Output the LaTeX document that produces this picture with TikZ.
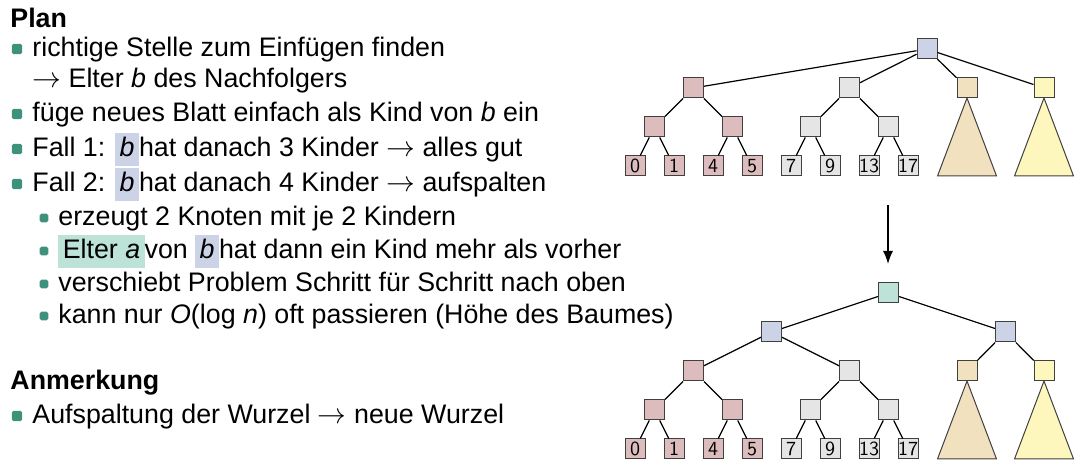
\documentclass[tikz,border=0pt]{standalone}
\usepackage{fontspec}
\setmainfont{Liberation Sans}
\usepackage{xcolor}
\usetikzlibrary{arrows.meta, positioning}

\definecolor{kitgreen}{RGB}{62,146,124}
\definecolor{nred}{RGB}{221,188,190}
\definecolor{ngray}{RGB}{229,229,229}
\definecolor{ntan}{RGB}{242,225,190}
\definecolor{nyellow}{RGB}{253,246,189}
\definecolor{nblue}{RGB}{205,211,230}
\definecolor{nteal}{RGB}{189,227,217}

\newcommand{\hlb}[1]{{\setlength{\fboxsep}{2.2pt}\colorbox{nblue}{\rule[-2.5pt]{0pt}{11pt}#1}}}
\newcommand{\hla}[1]{{\setlength{\fboxsep}{2.2pt}\colorbox{nteal}{\rule[-2.5pt]{0pt}{11pt}#1}}}

\tikzset{
  key/.style={rectangle, draw=black!75, line width=0.5pt, minimum size=10pt,
              inner sep=0pt, font=\sffamily\fontsize{10}{10}\selectfont},
  subtree/.style={draw=black!75, line width=0.5pt},
  edge/.style={line width=0.6pt},
  txt/.style={anchor=base west, inner sep=0pt, text height=9.5pt, text depth=2.5pt,
              font=\fontsize{13.4}{16}\selectfont},
  txttwo/.style={anchor=base west, inner sep=0pt, align=left,
                 font=\fontsize{13.4}{15.6}\selectfont},
  head/.style={txt, font=\fontsize{13.4}{16}\selectfont\bfseries},
  bul/.style={rectangle, fill=kitgreen, rounded corners=0.9pt,
              minimum size=5.2pt, inner sep=0pt},
  subbul/.style={bul, minimum size=4.3pt},
  arrow/.style={-{Latex[length=6.5pt, width=5pt]}, line width=0.7pt},
}

\begin{document}
\begin{tikzpicture}[x=0.5pt, y=-0.5pt]
  \useasboundingbox (0,0) rectangle (1092,474);

  % text (base anchor of the two-line item is its second line)
  \node[head] (plan) at (10,28) {Plan};
  \node[bul] (bu1) at (17,49) {};
  \node[txttwo] (l1) at (32,88) {richtige Stelle zum Einfügen finden\\
    $\rightarrow$ Elter \textit{b} des Nachfolgers};
  \node[bul] (bu2) at (17,114) {};
  \node[txt] (l2)  at (32,122) {füge neues Blatt einfach als Kind von \textit{b} ein};
  \node[bul] (bu3) at (17,149) {};
  \node[txt] (l3)  at (32,157) {Fall 1: \hlb{\textit{b}}hat danach 3 Kinder $\rightarrow$ alles gut};
  \node[bul] (bu4) at (17,184) {};
  \node[txt] (l4)  at (32,192) {Fall 2: \hlb{\textit{b}}hat danach 4 Kinder $\rightarrow$ aufspalten};
  \node[subbul] (s1) at (44,218) {};
  \node[txt] (l5)  at (58,226) {erzeugt 2 Knoten mit je 2 Kindern};
  \node[subbul] (s2) at (44,251) {};
  \node[txt] (l6)  at (58,259) {\hla{Elter \textit{a}}von \hlb{\textit{b}}hat dann ein Kind mehr als vorher};
  \node[subbul] (s3) at (44,284) {};
  \node[txt] (l7)  at (58,292) {verschiebt Problem Schritt für Schritt nach oben};
  \node[subbul] (s4) at (44,316) {};
  \node[txt] (l8)  at (58,324) {kann nur \textit{O}(log \textit{n}) oft passieren (Höhe des Baumes)};
  \node[head] (anm) at (10,390) {Anmerkung};
  \node[bul] (bu5) at (17,416) {};
  \node[txt] (l9)  at (32,424) {Aufspaltung der Wurzel $\rightarrow$ neue Wurzel};

  % tree before split
  \draw[subtree, fill=ntan]    (967,98) -- (937.5,176) -- (996.5,176) -- cycle;
  \draw[subtree, fill=nyellow] (1044,98) -- (1014.5,176) -- (1073.5,176) -- cycle;
  \node[key, fill=nblue]   (troot) at (927,49) {};
  \node[key, fill=nred]    (ta)  at (693.5,88) {};
  \node[key, fill=ngray]   (tb)  at (849.5,88) {};
  \node[key, fill=ntan]    (tc)  at (967,88) {};
  \node[key, fill=nyellow] (td)  at (1044,88) {};
  \node[key, fill=nred]    (ta1) at (654.5,127) {};
  \node[key, fill=nred]    (ta2) at (732.5,127) {};
  \node[key, fill=ngray]   (tb1) at (810.5,127) {};
  \node[key, fill=ngray]   (tb2) at (888.5,127) {};
  \node[key, fill=nred]    (t0)  at (635,166) {0};
  \node[key, fill=nred]    (t1)  at (674,166) {1};
  \node[key, fill=nred]    (t4)  at (713,166) {4};
  \node[key, fill=nred]    (t5)  at (752,166) {5};
  \node[key, fill=ngray]   (t7)  at (791,166) {7};
  \node[key, fill=ngray]   (t9)  at (830,166) {9};
  \node[key, fill=ngray]   (t13) at (869,166) {13};
  \node[key, fill=ngray]   (t17) at (908,166) {17};

  \draw[edge] (troot) -- (ta);
  \draw[edge] (troot) -- (tb);
  \draw[edge] (troot) -- (tc);
  \draw[edge] (troot) -- (td);
  \draw[edge] (ta) -- (ta1);
  \draw[edge] (ta) -- (ta2);
  \draw[edge] (tb) -- (tb1);
  \draw[edge] (tb) -- (tb2);
  \draw[edge] (ta1) -- (t0);
  \draw[edge] (ta1) -- (t1);
  \draw[edge] (ta2) -- (t4);
  \draw[edge] (ta2) -- (t5);
  \draw[edge] (tb1) -- (t7);
  \draw[edge] (tb1) -- (t9);
  \draw[edge] (tb2) -- (t13);
  \draw[edge] (tb2) -- (t17);

  \coordinate (arrtop) at (888,205);
  \coordinate (arrbot) at (888,264);
  \draw[arrow] (arrtop) -- (arrbot);

  % tree after split
  \draw[subtree, fill=ntan]    (967,381) -- (937.5,459) -- (996.5,459) -- cycle;
  \draw[subtree, fill=nyellow] (1044,381) -- (1014.5,459) -- (1073.5,459) -- cycle;
  \node[key, fill=nteal]   (broot) at (888.5,293) {};
  \node[key, fill=nblue]   (bl)  at (771.5,332) {};
  \node[key, fill=nblue]   (br)  at (1005.5,332) {};
  \node[key, fill=nred]    (ba)  at (693.5,371) {};
  \node[key, fill=ngray]   (bb)  at (849.5,371) {};
  \node[key, fill=ntan]    (bc)  at (967,371) {};
  \node[key, fill=nyellow] (bd)  at (1044,371) {};
  \node[key, fill=nred]    (ba1) at (654.5,410) {};
  \node[key, fill=nred]    (ba2) at (732.5,410) {};
  \node[key, fill=ngray]   (bb1) at (810.5,410) {};
  \node[key, fill=ngray]   (bb2) at (888.5,410) {};
  \node[key, fill=nred]    (b0)  at (635,449) {0};
  \node[key, fill=nred]    (b1)  at (674,449) {1};
  \node[key, fill=nred]    (b4)  at (713,449) {4};
  \node[key, fill=nred]    (b5)  at (752,449) {5};
  \node[key, fill=ngray]   (b7)  at (791,449) {7};
  \node[key, fill=ngray]   (b9)  at (830,449) {9};
  \node[key, fill=ngray]   (b13) at (869,449) {13};
  \node[key, fill=ngray]   (b17) at (908,449) {17};

  \draw[edge] (broot) -- (bl);
  \draw[edge] (broot) -- (br);
  \draw[edge] (bl) -- (ba);
  \draw[edge] (bl) -- (bb);
  \draw[edge] (br) -- (bc);
  \draw[edge] (br) -- (bd);
  \draw[edge] (ba) -- (ba1);
  \draw[edge] (ba) -- (ba2);
  \draw[edge] (bb) -- (bb1);
  \draw[edge] (bb) -- (bb2);
  \draw[edge] (ba1) -- (b0);
  \draw[edge] (ba1) -- (b1);
  \draw[edge] (ba2) -- (b4);
  \draw[edge] (ba2) -- (b5);
  \draw[edge] (bb1) -- (b7);
  \draw[edge] (bb1) -- (b9);
  \draw[edge] (bb2) -- (b13);
  \draw[edge] (bb2) -- (b17);
\end{tikzpicture}
\end{document}
